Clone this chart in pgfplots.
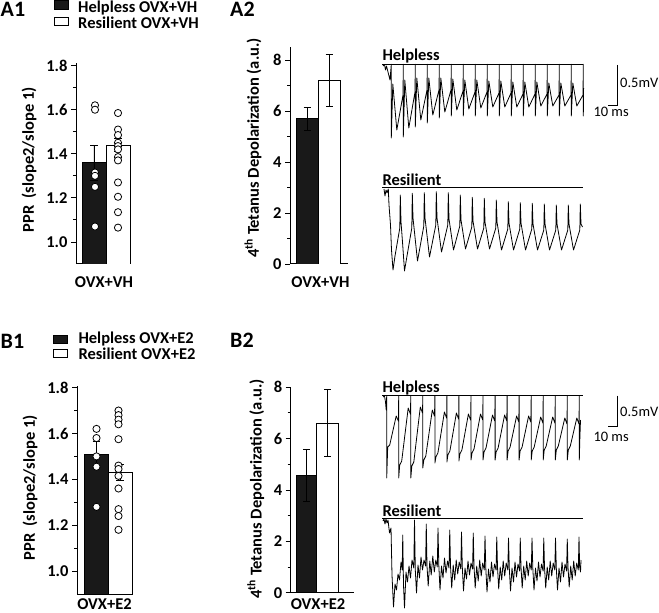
\documentclass[border=0pt]{standalone}
\usepackage{fontspec}
\setmainfont{Carlito}
\usepackage{pgfplots}
\pgfplotsset{compat=1.18}
\newcommand{\lab}{\fontsize{16.5bp}{19bp}\selectfont\bfseries}
\newcommand{\pan}{\fontsize{22bp}{25bp}\selectfont\bfseries}
\newcommand{\sml}{\fontsize{14.5bp}{17bp}\selectfont}
\pgfplotsset{
  barax/.style={
    scale only axis, anchor=south west,
    axis x line*=bottom, axis y line*=left,
    xtick=\empty,
    tick align=outside,
    major tick length=5bp, minor tick length=3bp,
    minor y tick num=1,
    tick style={black, line width=0.9bp},
    axis line style={line width=1bp, black},
    yticklabel style={font=\lab},
    /pgf/number format/assume math mode=true,
  },
  dots/.style={only marks, mark=*, mark size=3.6bp, mark options={fill=white, draw=black, line width=0.8bp}},
  ebar/.style={error bars/y dir=both, error bars/y explicit,
    error bars/error bar style={black, line width=0.9bp},
    error bars/error mark options={rotate=90, mark size=3.5bp, black, line width=0.9bp}},
  trace/.style={black, line width=0.8bp, line join=round},
}
\begin{document}
\begin{tikzpicture}
\useasboundingbox (0,0) rectangle (659bp,613bp);
% ---------- A1 ----------
\begin{axis}[barax, at={(76bp,349bp)}, width=55bp, height=201bp,
  xmin=0, xmax=55, ymin=0.9, ymax=1.812, ytick={1.0,1.2,1.4,1.6,1.8},
  yticklabel style={/pgf/number format/.cd, fixed, fixed zerofill, precision=1}]
\addplot[ybar, bar width=24, bar shift=0pt, fill=black!90, draw=black, line width=0.9bp, ebar]
  coordinates {(18,1.36) +- (0,0.08)};
\addplot[ybar, bar width=24, bar shift=0pt, fill=white, draw=black, line width=0.9bp, ebar]
  coordinates {(42,1.44) +- (0,0.03)};
\addplot[dots] coordinates {(19,1.62) (19,1.60) (19,1.315) (19,1.30) (19,1.25) (19,1.07)};
\addplot[dots] coordinates {(42,1.585) (42,1.51) (42,1.485) (42,1.45) (42,1.435) (42,1.42) (42,1.385) (42,1.37) (42,1.27) (42,1.205) (42,1.135) (42,1.065)};
\end{axis}
% ---------- A2 ----------
\begin{axis}[barax, at={(290bp,349bp)}, width=57.7bp, height=217.3bp,
  xmin=0, xmax=57.7, ymin=0, ymax=8.52, ytick={0,2,4,6,8}]
\addplot[ybar, bar width=22, bar shift=0pt, fill=black!90, draw=black, line width=0.9bp, ebar]
  coordinates {(17,5.69) +- (0,0.44)};
\addplot[ybar, bar width=22, bar shift=0pt, fill=white, draw=black, line width=0.9bp, ebar]
  coordinates {(39,7.19) +- (0,1.03)};
\end{axis}
% ---------- B1 ----------
\begin{axis}[barax, at={(77bp,19bp)}, width=56bp, height=208bp,
  xmin=0, xmax=56, ymin=0.9, ymax=1.807, ytick={1.0,1.2,1.4,1.6,1.8},
  yticklabel style={/pgf/number format/.cd, fixed, fixed zerofill, precision=1}]
\addplot[ybar, bar width=24, bar shift=0pt, fill=black!90, draw=black, line width=0.9bp, ebar]
  coordinates {(19,1.51) +- (0,0.055)};
\addplot[ybar, bar width=24, bar shift=0pt, fill=white, draw=black, line width=0.9bp, ebar]
  coordinates {(43,1.428) +- (0,0.035)};
\addplot[dots] coordinates {(19.5,1.62) (19.5,1.58) (19.5,1.50) (19.5,1.455) (19.5,1.28)};
\addplot[dots] coordinates {(41.5,1.70) (41.5,1.68) (41.5,1.66) (41.5,1.64) (41.5,1.575) (41.5,1.46) (41.5,1.445) (41.5,1.415) (41.5,1.36) (41.5,1.27) (41.5,1.24) (41.5,1.18)};
\end{axis}
% ---------- B2 ----------
\begin{axis}[barax, at={(290.7bp,20.3bp)}, width=63.3bp, height=206bp,
  xmin=0, xmax=63.3, ymin=0, ymax=8.02, ytick={0,2,4,6,8}]
\addplot[ybar, bar width=20.7, bar shift=0pt, fill=black!90, draw=black, line width=0.9bp, ebar]
  coordinates {(15.7,4.56) +- (0,1.0)};
\addplot[ybar, bar width=21.3, bar shift=0pt, fill=white, draw=black, line width=0.9bp, ebar]
  coordinates {(36.7,6.60) +- (0,1.3)};
\end{axis}
% ---------- overlay: traces and text (pixel coordinates) ----------
\begin{axis}[at={(0,0)}, anchor=south west, scale only axis, width=659bp, height=613bp,
  xmin=0, xmax=659, ymin=0, ymax=613, y dir=reverse, axis lines=none, clip=false]
% stimulus lines
\addplot[black, line width=1.2bp] coordinates {(382.3,64.3) (583.3,64.3)};
\addplot[black, line width=1.2bp] coordinates {(382.3,187.7) (583.3,187.7)};
\addplot[black, line width=1.2bp] coordinates {(382.3,395.7) (583.3,395.7)};
\addplot[black, line width=1.2bp] coordinates {(382.3,518.3) (583.3,518.3)};
% A helpless
\addplot[trace] coordinates {
(383,66) (384.5,64.5) (385.5,70) (386.5,66) (388,72) (390,80)
(391.3,64.3) (391.3,138) (392.8,84) (396.8,130) (403.0,95)
(403.3,64.3) (403.3,137) (404.8,80) (408.8,128) (415.0,92)
(415.3,64.3) (415.3,127) (416.8,78) (420.8,120) (427.0,90)
(427.3,64.3) (427.3,123) (428.8,78) (432.8,115) (439.0,90)
(439.3,64.3) (439.3,118) (440.8,78) (444.8,112) (451.0,90)
(451.3,64.3) (451.3,116) (452.8,79) (456.8,110) (463.0,91)
(463.3,64.3) (463.3,116) (464.8,80) (468.8,109) (475.0,92)
(475.3,64.3) (475.3,116) (476.8,80) (480.8,108) (487.0,92)
(487.3,64.3) (487.3,116) (488.8,81) (492.8,107) (499.0,93)
(499.3,64.3) (499.3,116) (500.8,81) (504.8,107) (511.0,93)
(511.3,64.3) (511.3,116) (512.8,82) (516.8,107) (523.0,94)
(523.3,64.3) (523.3,116) (524.8,82) (528.8,107) (535.0,94)
(535.3,64.3) (535.3,116) (536.8,82) (540.8,106) (547.0,94)
(547.3,64.3) (547.3,116) (548.8,83) (552.8,106) (559.0,95)
(559.3,64.3) (559.3,116) (560.8,83) (564.8,106) (571.0,95)
(571.3,64.3) (571.3,116) (572.8,83) (576.8,106) (583.0,95)
(583.3,64.3) (583.3,116) (583.6,88)};
% A resilient
\addplot[trace] coordinates {
(384,189) (385,196) (386,190) (387,193)
(388.3,189) (389,205) (390.5,225) (391.5,250) (393,270) (395,256) (399.8,228)
(400.3,195) (401,222) (402.5,242) (404.5,271) (407,256) (411.8,228)
(412.3,193.3) (413,218) (417.5,261) (423.8,226)
(424.3,192.7) (425,218) (429.5,257) (435.8,225)
(436.3,191.7) (437,218) (441.5,252) (447.8,225)
(448.3,192.7) (449,219) (453.5,250) (459.8,226)
(460.3,195) (461,220) (465.5,249) (471.8,227)
(472.3,197.3) (473,221) (477.5,249) (483.8,228)
(484.3,198.3) (485,222) (489.5,249) (495.8,228)
(496.3,200) (497,222) (501.5,250) (507.8,229)
(508.3,201.7) (509,223) (513.5,250) (519.8,229)
(520.3,202.7) (521,223) (525.5,250) (531.8,229)
(532.3,203.3) (533,224) (537.5,250) (543.8,230)
(544.3,204) (545,224) (549.5,250) (555.8,230)
(556.3,205) (557,224) (561.5,250) (567.8,230)
(568.3,205) (569,224) (573.5,250) (579.8,230)
(580.3,204) (581,224) (582.5,227)};
% B helpless
\addplot[trace] coordinates {
(383,397) (384.5,396) (385.5,402) (386.2,410)
(386.7,395.7) (386.7,478) (387.7,447) (389.7,445) (396.2,416) (398.4,421)
(398.7,395.7) (398.7,478) (399.7,465) (401.7,461) (408.2,408) (410.4,414)
(410.8,395.7) (410.8,478) (411.8,466) (413.8,462) (420.3,407) (422.5,413)
(422.8,395.7) (422.8,468) (423.8,460) (425.8,456) (432.3,410) (434.5,416)
(434.9,395.7) (434.9,463) (435.9,457) (437.9,453) (444.4,412) (446.6,418)
(446.9,395.7) (446.9,462) (447.9,455) (449.9,451) (456.4,413) (458.6,419)
(458.9,395.7) (458.9,461) (459.9,454) (461.9,450) (468.4,414) (470.6,420)
(471.0,395.7) (471.0,460) (472.0,453) (474.0,449) (480.5,414) (482.7,420)
(483.0,395.7) (483.0,460) (484.0,452) (486.0,448) (492.5,415) (494.7,421)
(495.1,395.7) (495.1,460) (496.1,452) (498.1,448) (504.6,415) (506.8,421)
(507.1,395.7) (507.1,460) (508.1,451) (510.1,447) (516.6,416) (518.8,422)
(519.1,395.7) (519.1,460) (520.1,451) (522.1,447) (528.6,416) (530.8,422)
(531.2,395.7) (531.2,460) (532.2,451) (534.2,447) (540.7,417) (542.9,423)
(543.2,395.7) (543.2,460) (544.2,450) (546.2,446) (552.7,417) (554.9,423)
(555.3,395.7) (555.3,460) (556.3,450) (558.3,446) (564.8,418) (567.0,424)
(567.3,395.7) (567.3,460) (568.3,450) (570.3,446) (576.8,418) (579.0,424)
(579.3,395.7) (579.3,460) (579.8,440) (580.5,420)};
% B resilient
\addplot[trace] coordinates {
(383,521) (384,519) (385,524) (386,519) (387,523) (388,520) (389.5,533)
(391,528) (392,575) (393.5,607) (395,584) (396.5,590) (398,574) (399.5,580) (401,562) (402.2,570)
(402.75,535) (403.5,585) (404.5,608) (406,572) (407.5,582) (409,566) (410.5,578) (412,560) (413.8,568)
(414.5,520) (415.3,570) (416.5,593) (418,565) (419.5,578) (421,557) (422.5,570) (424,560) (425.6,566)
(426.25,524) (427,566) (428.2,586) (429.8,561) (431.2,575) (432.8,556) (434.3,572) (435.8,560) (437.3,567)
(438,528) (438.8,565) (440,590) (441.5,566) (443,578) (444.5,558) (446,573) (447.5,561) (449,568)
(449.75,530) (450.5,566) (451.7,588) (453.2,565) (454.7,580) (456.2,560) (457.7,574) (459.2,562) (460.8,569)
(461.5,532) (462.3,567) (463.5,591) (465,568) (466.5,579) (468,561) (469.5,575) (471,563) (472.6,569)
(473.25,533) (474,566) (475.2,588) (476.7,566) (478.2,581) (479.7,560) (481.2,576) (482.7,563) (484.3,570)
(485,536) (485.8,568) (487,592) (488.5,569) (490,582) (491.5,562) (493,577) (494.5,564) (496.1,570)
(496.75,537) (497.5,567) (498.7,589) (500.2,567) (501.7,580) (503.2,561) (504.7,576) (506.2,563) (507.8,570)
(508.5,538) (509.3,568) (510.5,591) (512,568) (513.5,582) (515,562) (516.5,577) (518,564) (519.6,571)
(520.25,538) (521,567) (522.2,588) (523.7,566) (525.2,580) (526.7,561) (528.2,576) (529.7,563) (531.3,570)
(532,538) (532.8,568) (534,590) (535.5,568) (537,581) (538.5,562) (540,577) (541.5,564) (543.1,571)
(543.75,538) (544.5,567) (545.7,588) (547.2,567) (548.7,580) (550.2,561) (551.7,576) (553.2,563) (554.8,570)
(555.5,538) (556.3,568) (557.5,590) (559,568) (560.5,582) (562,562) (563.5,577) (565,564) (566.6,571)
(567.25,539) (568,567) (569.2,587) (570.7,566) (572.2,580) (573.7,561) (575.2,576) (576.7,563) (578.3,570)
(579,537) (579.6,566) (580.5,572) (581,560)};
% scale bars
\draw[black, line width=1bp] (axis cs:617.7,65) -- (axis cs:617.7,105.7) -- (axis cs:608.3,105.7);
\draw[black, line width=1bp] (axis cs:617.7,395.7) -- (axis cs:617.7,426.7) -- (axis cs:608.3,426.7);
\node[anchor=west, font=\sml, inner sep=0pt] at (axis cs:620,83.3) {0.5mV};
\node[anchor=west, font=\sml, inner sep=0pt] at (axis cs:593.3,112) {10 ms};
\node[anchor=west, font=\sml, inner sep=0pt] at (axis cs:620,411.7) {0.5mV};
\node[anchor=west, font=\sml, inner sep=0pt] at (axis cs:593.3,436.7) {10 ms};
% trace labels
\node[anchor=base west, font=\lab, inner sep=0pt] at (axis cs:382.3,60.5) {Helpless};
\node[anchor=base west, font=\lab, inner sep=0pt] at (axis cs:382.3,185) {Resilient};
\node[anchor=base west, font=\lab, inner sep=0pt] at (axis cs:382.3,392) {Helpless};
\node[anchor=base west, font=\lab, inner sep=0pt] at (axis cs:382.3,516.3) {Resilient};
% panel labels
\node[anchor=base west, font=\pan, inner sep=0pt] at (axis cs:0.5,16.7) {A1};
\node[anchor=base west, font=\pan, inner sep=0pt] at (axis cs:230,16.7) {A2};
\node[anchor=base west, font=\pan, inner sep=0pt] at (axis cs:0.5,348) {B1};
\node[anchor=base west, font=\pan, inner sep=0pt] at (axis cs:230,347) {B2};
% legends
\draw[fill=black!90, line width=0.8bp] (axis cs:54.5,0.8) rectangle (axis cs:68.5,9);
\draw[fill=white, line width=0.8bp] (axis cs:54.5,17) rectangle (axis cs:68.5,25.3);
\node[anchor=base west, font=\lab, inner sep=0pt] at (axis cs:78,12.7) {Helpless OVX+VH};
\node[anchor=base west, font=\lab, inner sep=0pt] at (axis cs:78,28.3) {Resilient OVX+VH};
\draw[fill=black!90, line width=0.8bp] (axis cs:53.8,335) rectangle (axis cs:67.8,343.3);
\draw[fill=white, line width=0.8bp] (axis cs:53.8,349.5) rectangle (axis cs:67.8,357.7);
\node[anchor=base west, font=\lab, inner sep=0pt] at (axis cs:78.3,343.5) {Helpless OVX+E2};
\node[anchor=base west, font=\lab, inner sep=0pt] at (axis cs:78.3,359.2) {Resilient OVX+E2};
% axis titles
\node[rotate=90, font=\lab, inner sep=0pt] at (axis cs:29,160) {PPR\ \ (slope2/slope 1)};
\node[rotate=90, font=\lab, inner sep=0pt] at (axis cs:30,488) {PPR\ \ (slope2/slope 1)};
\node[rotate=90, font=\lab, inner sep=0pt] at (axis cs:253,148) {4\textsuperscript{th} Tetanus Depolarization (a.u.)};
\node[rotate=90, font=\lab, inner sep=0pt] at (axis cs:255.7,489) {4\textsuperscript{th} Tetanus Depolarization (a.u.)};
\node[anchor=base, font=\lab, inner sep=0pt] at (axis cs:104,287) {OVX+VH};
\node[anchor=base, font=\lab, inner sep=0pt] at (axis cs:320.5,287) {OVX+VH};
\node[anchor=base, font=\lab, inner sep=0pt] at (axis cs:104.5,609.5) {OVX+E2};
\node[anchor=base, font=\lab, inner sep=0pt] at (axis cs:318,609.5) {OVX+E2};
\end{axis}
\end{tikzpicture}
\end{document}
